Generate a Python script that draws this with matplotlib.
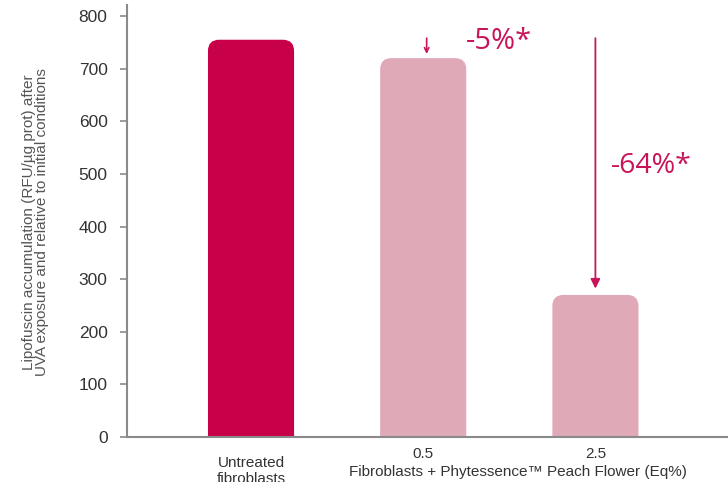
import matplotlib.pyplot as plt
from matplotlib.patches import FancyBboxPatch
from matplotlib.transforms import blended_transform_factory

# data
groups = ['Untreated\nfibroblasts', '0.5', '2.5']
values = [755, 720, 270]
changes = ['-5%*', '-64%*']
group_title = 'Fibroblasts + Phytessence\u2122 Peach Flower (Eq%)'
ylabel = 'Lipofuscin accumulation (RFU/\u00b5g prot) after\nUVA exposure and relative to initial conditions'

bar_colors = ['#c8004a', '#e0a9b8', '#e0a9b8']
accent = '#c8145a'

plt.rcParams['font.family'] = ['Liberation Sans', 'DejaVu Sans']

fig = plt.figure(figsize=(7.28, 4.82), dpi=100)
ax = fig.add_axes([0.1745, 0.0934, 0.8255, 0.8962])

x = list(range(len(groups)))
bars = ax.bar(x, values, width=0.5, color=bar_colors)

# swap plain rectangles for rounded ones (bottom corners clipped by the axis)
ax.set_xlim(-0.72, 2.77)
ax.set_ylim(0, 821)
aspect = (821 / 432) * (601 / 3.49)
for b in bars:
    b.set_visible(False)
    p = FancyBboxPatch((b.get_x(), -60), b.get_width(), b.get_height() + 60,
                       boxstyle='round,pad=0,rounding_size=0.065',
                       mutation_aspect=aspect, fc=b.get_facecolor(), ec='none')
    ax.add_patch(p)

# arrows + percentage labels
ax.annotate('', xy=(x[1] + 0.02, values[1] + 8), xytext=(x[1] + 0.02, 758),
            arrowprops=dict(arrowstyle='->', color=accent, lw=1.2,
                            mutation_scale=8, shrinkA=0, shrinkB=0))
ax.annotate('', xy=(x[2], values[2] + 12), xytext=(x[2], 758),
            arrowprops=dict(arrowstyle='-|>', color=accent, lw=1.3,
                            mutation_scale=14, shrinkA=0, shrinkB=0))
ax.text(1.25, 751, changes[0], color=accent, fontsize=21, family=['Open Sans', 'DejaVu Sans'],
        va='center', ha='left')
ax.text(2.09, 515, changes[1], color=accent, fontsize=20.5, family=['Open Sans', 'DejaVu Sans'],
        va='center', ha='left')

# axes styling
for s in ['top', 'right']:
    ax.spines[s].set_visible(False)
for s in ['left', 'bottom']:
    ax.spines[s].set_color('#8a8a8a')
    ax.spines[s].set_linewidth(1.5)
ax.set_yticks(range(0, 801, 100))
ax.tick_params(axis='y', colors='#8a8a8a', labelcolor='#333333', labelsize=12.5,
               length=5, width=1.2, pad=9)
ax.set_xticks(x[1:])
ax.set_xticklabels(groups[1:])
ax.tick_params(axis='x', length=0, labelsize=11, labelcolor='#333333', pad=7)

trans = blended_transform_factory(ax.transData, ax.transAxes)
ax.text(x[0], -0.045, groups[0], transform=trans, ha='center', va='top',
        fontsize=11, color='#333333', linespacing=1.1, clip_on=False)
ax.text(1.55, -0.066, group_title, transform=trans, ha='center', va='top',
        fontsize=11, color='#333333')

fig.text(0.049, 0.54, ylabel, rotation=90, ha='center', va='center',
         fontsize=11, color='#555555', linespacing=0.95)

fig.savefig('out.png', dpi=100)
